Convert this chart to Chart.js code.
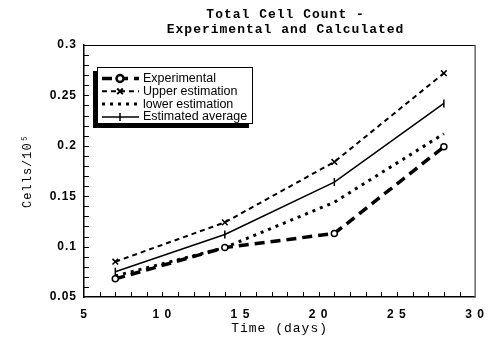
<!DOCTYPE html>
<html>
<head>
<meta charset="utf-8">
<script src="https://cdn.jsdelivr.net/npm/chart.js@4/dist/chart.umd.min.js"></script>
<style>
  html, body { margin: 0; padding: 0; background: #fff; }
</style>
</head>
<body>
<canvas id="cells" width="495" height="343"></canvas>
<script>
const days = [7, 14, 21, 28];
const experimental = [0.068, 0.099, 0.113, 0.199];
const upperEst = [0.085, 0.124, 0.184, 0.272];
const lowerEst = [0.071, 0.099, 0.144, 0.212];
const avgEst = [0.075, 0.112, 0.164, 0.242];
const seriesNames = ['Experimental', 'Upper estimation', 'lower estimation', 'Estimated average'];
const xTickLabels = ['5', '1 0', '1 5', '2 0', '2 5', '3 0'];
const yTickLabels = ['0.05', '0.1', '0.15', '0.2', '0.25', '0.3'];
const titleLines = ['Total Cell Count -', 'Experimental and Calculated'];

function pts(ys) {
  return days.map((d, i) => ({ x: d, y: ys[i] }));
}

// line looks, shared with the hand drawn legend
const looks = [
  { borderWidth: 3.5, borderDash: [10, 6], pointStyle: 'circle', pointRadius: 3, pointBackgroundColor: '#fff', pointBorderWidth: 1.5 },
  { borderWidth: 2, borderDash: [5, 4], pointStyle: 'crossRot', pointRadius: 4, pointBorderWidth: 1.5 },
  { borderWidth: 3, borderDash: [3, 5], pointStyle: false, pointRadius: 0 },
  { borderWidth: 1.5, borderDash: [], pointStyle: 'line', pointRotation: 90, pointRadius: 4, pointBorderWidth: 1.5 }
];
const values = [experimental, upperEst, lowerEst, avgEst];

const datasets = values.map((v, i) => Object.assign({
  label: seriesNames[i],
  data: pts(v),
  borderColor: '#000',
  pointBorderColor: '#000',
  backgroundColor: '#000',
  borderCapStyle: 'butt',
  tension: 0,
  fill: false
}, looks[i]));

const spacing = {
  id: 'spacing',
  beforeUpdate(chart) { chart.ctx.letterSpacing = '1px'; },
  beforeDraw(chart) { chart.ctx.letterSpacing = '1px'; }
};

const frame = {
  id: 'frame',
  afterDraw(chart) {
    const ctx = chart.ctx;
    const a = chart.chartArea;
    const sx = chart.scales.x, sy = chart.scales.y;
    ctx.save();
    ctx.letterSpacing = '0px';
    // top and right border
    ctx.strokeStyle = '#000';
    ctx.lineWidth = 1;
    ctx.beginPath();
    ctx.moveTo(a.left, a.top + 0.5);
    ctx.lineTo(a.right, a.top + 0.5);
    ctx.stroke();
    ctx.strokeStyle = '#666';
    ctx.lineWidth = 1.5;
    ctx.beginPath();
    ctx.moveTo(a.right, a.top);
    ctx.lineTo(a.right, a.bottom);
    ctx.stroke();
    // inward ticks
    ctx.strokeStyle = '#000';
    ctx.lineWidth = 1;
    ctx.beginPath();
    for (let v = 6; v < 30; v++) {
      const px = Math.round(sx.getPixelForValue(v)) + 0.5;
      ctx.moveTo(px, a.bottom);
      ctx.lineTo(px, a.bottom - 5);
    }
    for (let k = 6; k < 30; k++) {
      const py = Math.round(sy.getPixelForValue(k / 100)) + 0.5;
      ctx.moveTo(a.left, py);
      ctx.lineTo(a.left + 5, py);
    }
    ctx.stroke();

    // title
    ctx.letterSpacing = '1px';
    ctx.fillStyle = '#000';
    ctx.font = 'bold 13px "Liberation Mono"';
    ctx.textAlign = 'center';
    ctx.textBaseline = 'middle';
    const cx = (a.left + a.right) / 2 + 6;
    ctx.fillText(titleLines[0], cx, 15);
    ctx.fillText(titleLines[1], cx, 30);

    // legend
    ctx.letterSpacing = '0px';
    ctx.fillStyle = '#000';
    ctx.fillRect(93, 71, 156, 57);
    ctx.fillStyle = '#fff';
    ctx.fillRect(97, 67, 156, 57);
    ctx.strokeStyle = '#000';
    ctx.lineWidth = 1;
    ctx.strokeRect(97.5, 67.5, 155, 56);
    ctx.font = '12.5px "Liberation Sans"';
    ctx.textAlign = 'left';
    ctx.textBaseline = 'middle';
    seriesNames.forEach((name, i) => {
      const y = 78.5 + i * 12.8;
      const lk = looks[i];
      ctx.strokeStyle = '#000';
      ctx.lineWidth = lk.borderWidth;
      ctx.setLineDash(lk.borderDash);
      ctx.beginPath();
      ctx.moveTo(102, y);
      ctx.lineTo(139, y);
      ctx.stroke();
      ctx.setLineDash([]);
      if (lk.pointStyle) {
        Chart.helpers.drawPoint(ctx, {
          pointStyle: lk.pointStyle,
          rotation: lk.pointRotation || 0,
          radius: lk.pointRadius,
          borderWidth: lk.pointBorderWidth
        }, 120, y);
        if (lk.pointStyle === 'circle') {
          ctx.fillStyle = '#fff';
          ctx.lineWidth = 1.5;
          ctx.beginPath();
          ctx.arc(120, y, 3, 0, Math.PI * 2);
          ctx.fill();
          ctx.stroke();
        }
      }
      ctx.fillStyle = '#000';
      ctx.fillText(name, 143, y);
    });
    ctx.restore();
  }
};

new Chart(document.getElementById('cells'), {
  type: 'line',
  data: { datasets: datasets },
  plugins: [spacing, frame],
  options: {
    responsive: false,
    animation: false,
    devicePixelRatio: 1,
    layout: { padding: { top: 45, right: 14, left: 0, bottom: 0 } },
    plugins: {
      legend: { display: false },
      title: { display: false },
      tooltip: { enabled: false }
    },
    scales: {
      x: {
        type: 'linear',
        min: 5,
        max: 30,
        afterFit(s) { s.height = 46; },
        grid: { display: false, drawTicks: false },
        border: { display: true, color: '#000', width: 1.5 },
        ticks: {
          stepSize: 5,
          padding: 10,
          color: '#000',
          font: { family: 'Liberation Sans', size: 12, weight: 'bold' },
          callback: (v) => xTickLabels[Math.round((v - 5) / 5)]
        },
        title: {
          display: true,
          text: 'Time (days)',
          color: '#000',
          font: { family: 'Liberation Mono', size: 13 },
          padding: { top: 0, bottom: 7 }
        }
      },
      y: {
        min: 0.05,
        max: 0.3,
        afterFit(s) { s.width = 84; },
        grid: { display: false, drawTicks: false },
        border: { display: true, color: '#000', width: 1.5 },
        ticks: {
          stepSize: 0.05,
          padding: 7,
          color: '#000',
          font: { family: 'Liberation Sans', size: 12, weight: 'bold' },
          callback: (v) => yTickLabels[Math.round((v - 0.05) / 0.05)]
        },
        title: {
          display: true,
          text: 'Cells/10\u2075',
          color: '#000',
          font: { family: 'Liberation Mono', size: 12 },
          padding: { top: 21, bottom: 0 }
        }
      }
    }
  }
});
</script>
</body>
</html>
